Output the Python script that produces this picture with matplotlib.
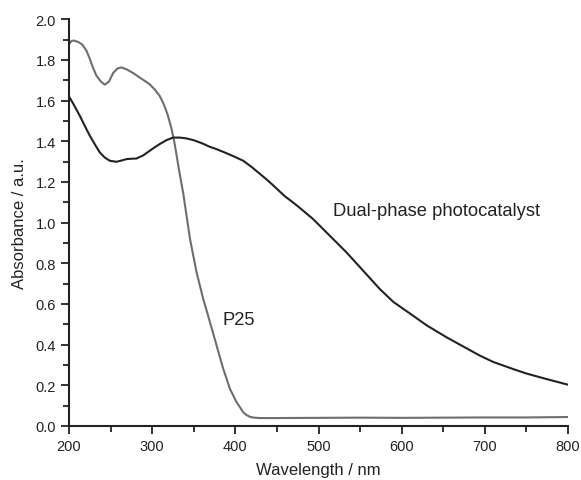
import matplotlib
matplotlib.use('Agg')
import matplotlib.pyplot as plt
from matplotlib.ticker import MultipleLocator, FormatStrFormatter

plt.rcParams['font.family'] = ['Liberation Sans', 'DejaVu Sans']

# P25 absorbance (gray curve)
p25_nm = [200, 203, 206, 211, 216, 221, 225, 229, 233, 238, 243, 248, 253,
          258, 263, 270, 278, 285, 291, 297, 303, 309, 313, 316, 319, 323,
          326, 329, 332, 337.5, 341, 345.5, 349, 353.4, 357, 361.4, 365,
          369.5, 373, 377.5, 381, 385.5, 389, 393.5, 397, 401.6, 405, 409.5,
          413, 417.5, 422, 430, 450, 500, 550, 600, 650, 700, 750, 800]
p25_abs = [1.877, 1.893, 1.895, 1.888, 1.875, 1.845, 1.805, 1.76, 1.722,
           1.695, 1.678, 1.693, 1.735, 1.757, 1.763, 1.752, 1.733, 1.713,
           1.697, 1.68, 1.655, 1.623, 1.59, 1.56, 1.525, 1.465, 1.41, 1.34,
           1.265, 1.14, 1.043, 0.919, 0.846, 0.755, 0.696, 0.624, 0.574,
           0.51, 0.46, 0.395, 0.345, 0.28, 0.238, 0.182, 0.154, 0.116,
           0.096, 0.067, 0.055, 0.045, 0.041, 0.039, 0.039, 0.04, 0.041,
           0.04, 0.041, 0.042, 0.042, 0.044]

# Dual-phase photocatalyst absorbance (black curve)
dual_nm = [200, 205, 213, 219, 225, 231, 237, 243, 249, 257, 263, 269, 275,
           281, 289, 297, 303, 309, 317, 325, 333, 341, 350, 360, 369, 377.5,
           390, 400, 409.5, 420, 430, 437.6, 445, 453.6, 460, 470, 477.6,
           493.6, 510, 533.8, 550, 573.8, 590, 613.8, 630, 654, 670, 694,
           710, 734, 750, 774, 800]
dual_abs = [1.62, 1.585, 1.525, 1.475, 1.427, 1.385, 1.345, 1.32, 1.304,
            1.299, 1.305, 1.312, 1.314, 1.315, 1.33, 1.353, 1.37, 1.386,
            1.405, 1.418, 1.418, 1.414, 1.405, 1.39, 1.373, 1.361, 1.34,
            1.322, 1.304, 1.272, 1.238, 1.212, 1.185, 1.152, 1.128, 1.097,
            1.072, 1.017, 0.95, 0.853, 0.78, 0.673, 0.61, 0.542, 0.495,
            0.436, 0.40, 0.346, 0.315, 0.28, 0.258, 0.231, 0.203]

fig = plt.figure(figsize=(5.81, 4.81), dpi=100)
ax = fig.add_axes([0.1188, 0.1123, 0.8588, 0.8457])

ax.plot(p25_nm, p25_abs, color='#6e6e6e', linewidth=1.5)
ax.plot(dual_nm, dual_abs, color='#222222', linewidth=1.5)

ax.set_xlim(200, 800)
ax.set_ylim(0, 2.0)
ax.xaxis.set_major_locator(MultipleLocator(100))
ax.xaxis.set_minor_locator(MultipleLocator(50))
ax.yaxis.set_major_locator(MultipleLocator(0.2))
ax.yaxis.set_minor_locator(MultipleLocator(0.1))
ax.yaxis.set_major_formatter(FormatStrFormatter('%.1f'))

for s in ('top', 'right'):
    ax.spines[s].set_visible(False)
for s in ('left', 'bottom'):
    ax.spines[s].set_linewidth(1.5)
    ax.spines[s].set_color('#222222')

ax.tick_params(which='both', direction='out', width=1.3, colors='#222222',
               labelsize=10.5)
ax.tick_params(which='major', length=6)
ax.tick_params(which='minor', length=4)

ax.set_xlabel('Wavelength / nm', fontsize=12, color='#222222', labelpad=6)
ax.set_ylabel('Absorbance / a.u.', fontsize=12, color='#222222', labelpad=6)

ax.text(517, 1.058, 'Dual-phase photocatalyst', fontsize=13.2,
        color='#222222', va='center', ha='left')
ax.text(385, 0.526, 'P25', fontsize=13.2, color='#222222',
        va='center', ha='left')

plt.savefig('out.png', dpi=100)
